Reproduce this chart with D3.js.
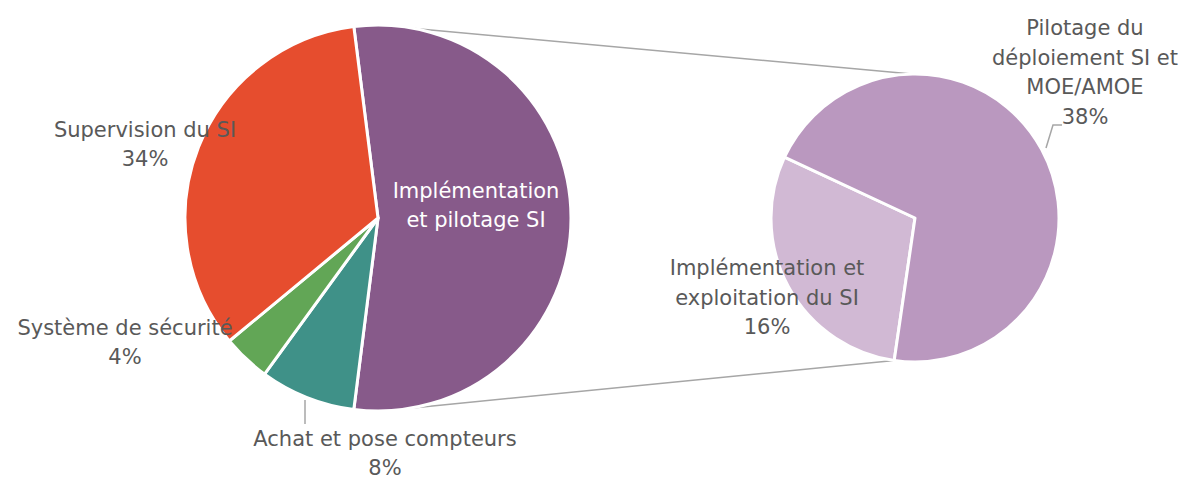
<!DOCTYPE html>
<html>
<head>
<meta charset="utf-8">
<script src="https://cdn.jsdelivr.net/npm/d3@7"></script>
<style>
body { margin: 0; background: #fff; }
text { font-family: "DejaVu Sans", Arial, sans-serif; font-size: 21px; fill: #595959; }
</style>
</head>
<body>
<script>
// main pie
let mainCats = ["Implémentation et pilotage SI", "Achat et pose compteurs", "Système de sécurité", "Supervision du SI"];
let mainVals = [54, 8, 4, 34];
let mainColors = ["#875A8A", "#3F9188", "#62A656", "#E64D2E"];
// secondary pie (split of the first slice)
let subCats = ["Implémentation et exploitation du SI", "Pilotage du déploiement SI et MOE/AMOE"];
let subVals = [16, 38];
let subColors = ["#D1B9D4", "#BA98BF"];

window.onload = function(){(function(){
let W = 1199, H = 479;
let svg = d3.select("body").append("svg")
	.attr("width", W)
	.attr("height", H);

let deg = Math.PI / 180;
let L = {cx: 378, cy: 218, r: 193},
    R = {cx: 915, cy: 218, r: 144};

// big pie: first slice centred on the right
let total = d3.sum(mainVals);
let firstSpan = mainVals[0] / total * 2 * Math.PI;
let pieL = d3.pie().sort(null)
	.startAngle(Math.PI / 2 - firstSpan / 2)
	.endAngle(Math.PI / 2 - firstSpan / 2 + 2 * Math.PI);
let arcL = d3.arc().innerRadius(0).outerRadius(L.r);
let arcsL = pieL(mainVals);

let pieR = d3.pie().sort(null)
	.startAngle(188.3 * deg)
	.endAngle(188.3 * deg + 2 * Math.PI);
let arcR = d3.arc().innerRadius(0).outerRadius(R.r);
let arcsR = pieR(subVals);

function pt(c, r, a){ return [c.cx + r * Math.sin(a), c.cy - r * Math.cos(a)]; }

// connector lines
let conn = [
	[pt(L, L.r, 10.9 * deg), pt(R, R.r, -1.2 * deg)],
	[pt(L, L.r, 169.7 * deg), pt(R, R.r, 188.3 * deg)]
];
svg.selectAll(".conn").data(conn).enter().append("line")
	.attr("x1", d => d[0][0]).attr("y1", d => d[0][1])
	.attr("x2", d => d[1][0]).attr("y2", d => d[1][1])
	.attr("stroke", "#A6A6A6").attr("stroke-width", 1.5);

svg.append("g").attr("transform", "translate(" + L.cx + "," + L.cy + ")")
	.selectAll("path").data(arcsL).enter().append("path")
	.attr("d", arcL)
	.attr("fill", (d, i) => mainColors[i])
	.attr("stroke", "#fff").attr("stroke-width", 3).attr("stroke-linejoin", "round");

svg.append("g").attr("transform", "translate(" + R.cx + "," + R.cy + ")")
	.selectAll("path").data(arcsR).enter().append("path")
	.attr("d", arcR)
	.attr("fill", (d, i) => subColors[i])
	.attr("stroke", "#fff").attr("stroke-width", 3).attr("stroke-linejoin", "round");

// leader lines
let leaders = [
	[[305, 400], [305, 424]],
	[[1046, 148], [1053, 125], [1062, 125]]
];
svg.selectAll(".leader").data(leaders).enter().append("path")
	.attr("d", d3.line())
	.attr("fill", "none").attr("stroke", "#A6A6A6").attr("stroke-width", 1.5);

// labels
let labels = [
	{x: 476, y: 198, lines: ["Implémentation", "et pilotage SI"], white: true},
	{x: 145, y: 137, lines: ["Supervision du SI", mainVals[3] + "%"]},
	{x: 125, y: 335, lines: ["Système de sécurité", mainVals[2] + "%"]},
	{x: 385, y: 446, lines: ["Achat et pose compteurs", mainVals[1] + "%"]},
	{x: 767, y: 275, lines: ["Implémentation et", "exploitation du SI", subVals[0] + "%"]},
	{x: 1085, y: 35, lines: ["Pilotage du", "déploiement SI et", "MOE/AMOE", subVals[1] + "%"]}
];
labels.forEach(function(l){
	let t = svg.append("text")
		.attr("text-anchor", "middle")
		.style("fill", l.white ? "#fff" : null);
	l.lines.forEach(function(s, i){
		t.append("tspan").attr("x", l.x).attr("y", l.y + i * (l.lines.length > 2 ? 29.5 : 28.5)).text(s);
	});
});
})()}
</script>
</body>
</html>
